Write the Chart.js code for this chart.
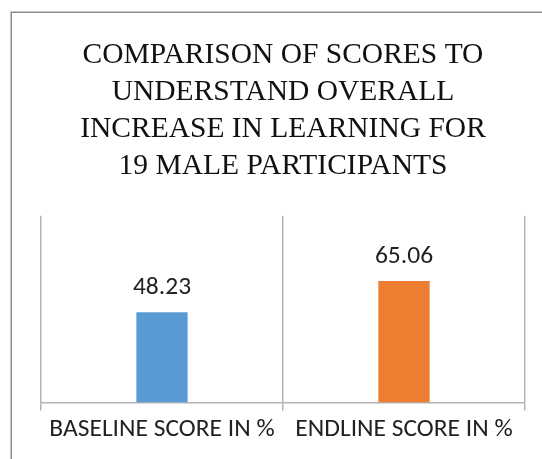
<!DOCTYPE html>
<html>
<head>
<meta charset="utf-8">
<style>
  html, body { margin: 0; padding: 0; background: #ffffff; overflow: hidden; }
  #wrap { width: 542px; height: 459px; }
</style>
<script src="https://cdn.jsdelivr.net/npm/chart.js@4/dist/chart.umd.min.js"></script>
</head>
<body>
<div id="wrap"><canvas id="chart" width="542" height="459"></canvas></div>
<script>
// Chart content
const titleLines = [
  'COMPARISON OF SCORES TO',
  'UNDERSTAND OVERALL',
  'INCREASE IN LEARNING FOR',
  '19 MALE PARTICIPANTS'
];
const categories = ['BASELINE SCORE IN %', 'ENDLINE SCORE IN %'];
const scores = [48.23, 65.06];
const barColors = ['#5b9bd5', '#ed7d31'];
const valueRange = [0, 100];

const labelFont = "Carlito, Lato, 'Open Sans', sans-serif";
const titleFont = "'Liberation Serif', 'DejaVu Serif', serif";

// White page with the grey outer frame of the chart object
const framePlugin = {
  id: 'frame',
  beforeDraw(chart) {
    const ctx = chart.ctx;
    ctx.save();
    ctx.fillStyle = '#ffffff';
    ctx.fillRect(0, 0, chart.width, chart.height);
    ctx.strokeStyle = '#8c8c8c';
    ctx.lineWidth = 1.5;
    ctx.strokeRect(11.25, 12.25, 800, 800);
    ctx.restore();
  }
};

// Value labels written above each bar
const valueLabelPlugin = {
  id: 'valueLabels',
  afterDatasetsDraw(chart) {
    const ctx = chart.ctx;
    const meta = chart.getDatasetMeta(0);
    const data = chart.data.datasets[0].data;
    ctx.save();
    ctx.font = '25.5px ' + labelFont;
    ctx.fillStyle = '#222222';
    ctx.textAlign = 'center';
    ctx.textBaseline = 'alphabetic';
    meta.data.forEach((bar, i) => {
      ctx.fillText(data[i].toFixed(2), bar.x, bar.y - 18);
    });
    ctx.restore();
  }
};

new Chart(document.getElementById('chart'), {
  type: 'bar',
  data: {
    labels: categories,
    datasets: [{
      data: scores,
      backgroundColor: barColors,
      borderWidth: 0,
      barPercentage: 0.212,
      categoryPercentage: 1.0
    }]
  },
  options: {
    responsive: false,
    animation: false,
    events: [],
    layout: { padding: { left: 41, right: 17, top: 12, bottom: 10 } },
    plugins: {
      legend: { display: false },
      tooltip: { enabled: false },
      title: {
        display: true,
        text: titleLines,
        color: '#111111',
        font: { family: titleFont, size: 29.5, weight: 'normal', lineHeight: 1.26 },
        padding: { top: 24.5, bottom: 30.5 }
      }
    },
    scales: {
      x: {
        offset: true,
        grid: {
          offset: true,
          color: '#b4b4b4',
          lineWidth: 1.5,
          drawTicks: true,
          tickLength: 8
        },
        border: { display: true, color: '#b4b4b4', width: 1.5 },
        ticks: {
          color: '#222222',
          font: { family: labelFont, size: 25.5 },
          padding: 4,
          maxRotation: 0,
          autoSkip: false
        }
      },
      y: {
        display: false,
        min: valueRange[0],
        max: valueRange[1]
      }
    }
  },
  plugins: [framePlugin, valueLabelPlugin]
});
</script>
</body>
</html>
